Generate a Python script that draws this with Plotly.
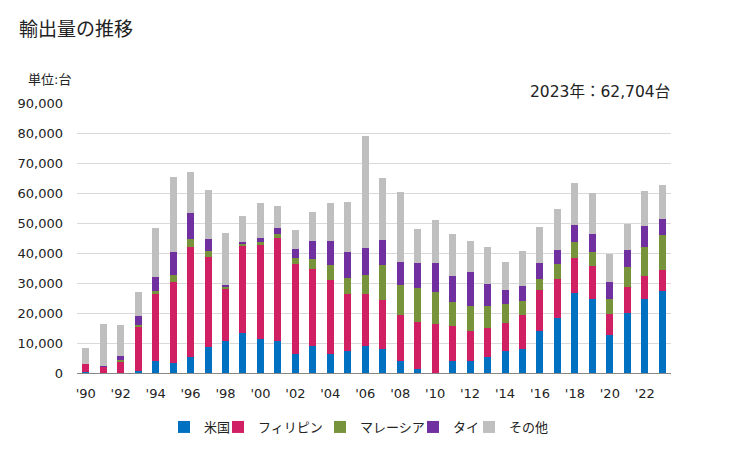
import plotly.graph_objects as go

years = list(range(1990, 2024))
usa = [500, 0, 0, 600, 3900, 3400, 5400, 8600, 10600, 13400, 11400,
       10800, 6400, 9100, 6400, 7400, 9100, 8100, 3900, 1400, 0,
       3900, 3900, 5400, 7200, 7900, 14100, 18400, 26600, 24800, 12800,
       20100, 24600, 27200]
philippines = [2600, 2000, 3900, 14800, 22500, 27000, 36700, 30200, 17500, 29000, 31400,
               34300, 30000, 25700, 24700, 19000, 17300, 16300, 15500, 15700, 16400,
               11900, 10200, 9700, 9600, 11500, 13700, 13000, 11800, 11000, 7000,
               8700, 7800, 7200]
malaysia = [0, 0, 300, 500, 1000, 2400, 2700, 2000, 700, 700, 1000,
            1300, 2000, 3300, 5000, 5400, 6400, 11700, 10000, 11300, 10700,
            8000, 8300, 7300, 6300, 4700, 3600, 5000, 5400, 4600, 5000,
            6600, 9700, 11700]
thailand = [0, 400, 1600, 3200, 4700, 7600, 8600, 4000, 600, 700, 1300,
            2000, 3000, 6000, 8000, 8600, 9000, 8300, 7700, 8400, 9700,
            8600, 11400, 7400, 4700, 5000, 5400, 4700, 5600, 6000, 5600,
            5700, 7000, 5300]
others = [5400, 14000, 10300, 8000, 16300, 25000, 13700, 16300, 17400, 8600, 11700,
          7400, 6400, 9700, 12700, 16700, 37300, 20700, 23300, 11300, 14300,
          14000, 10300, 12300, 9300, 11700, 12000, 13700, 14000, 13600, 9400,
          8700, 11700, 11304]

series_names = ["米国", "フィリピン", "マレーシア", "タイ", "その他"]
series_values = [usa, philippines, malaysia, thailand, others]
colors = ["#0070c0", "#d01f63", "#77933c", "#7030a0", "#bfbfbf"]

tick_years = list(range(1990, 2023, 2))
tick_labels = ["'" + str(y)[2:] for y in tick_years]

W, H = 729, 450
L, R, T, B = 77, 671, 103, 373
FONT = "DejaVu Sans, Noto Sans CJK JP, sans-serif"
TXT = "#222222"

def px_x(x):
    return (x - L) / (R - L)

def px_y(y):
    return (B - y) / (B - T)

# legend text start positions (pixels) for each entry
legend_text_x = [204, 258, 360, 453, 509]
legend_keys = ["legend", "legend2", "legend3", "legend4", "legend5"]

fig = go.Figure()
for name, vals, c, lk in zip(series_names, series_values, colors, legend_keys):
    fig.add_trace(go.Bar(x=years, y=vals, name=name, legend=lk,
                         marker=dict(color=c, line=dict(width=0))))

legend_layouts = {}
for lk, tx in zip(legend_keys, legend_text_x):
    legend_layouts[lk] = dict(orientation="h", xref="container", yref="container",
                              x=(tx - 40) / W, xanchor="left",
                              y=(H - 427) / H, yanchor="middle", bgcolor="rgba(0,0,0,0)",
                              borderwidth=0, font=dict(size=13, color=TXT,
                                                       family="Noto Sans CJK JP"),
                              itemwidth=30)

fig.update_layout(
    width=W, height=H,
    margin=dict(l=L, r=W - R, t=T, b=H - B, pad=0, autoexpand=False),
    barmode="stack",
    bargap=0.6,
    plot_bgcolor="white",
    paper_bgcolor="white",
    font=dict(family=FONT, size=13, color=TXT),
    showlegend=True,
    xaxis=dict(range=[1989.5, 2023.5], tickmode="array", tickvals=tick_years, ticktext=tick_labels,
               showgrid=False, showline=True, linecolor="#888888", linewidth=1,
               ticks="", ticklabelstandoff=8, tickfont=dict(size=13, color=TXT), zeroline=False),
    yaxis=dict(range=[0, 90000], tickmode="linear", tick0=0, dtick=10000, tickformat=",",
               showgrid=True, gridcolor="#d9d9d9", gridwidth=1, zeroline=False,
               showline=False, ticks="", ticklabelstandoff=13,
               tickfont=dict(size=13, color=TXT)),
    annotations=[
        dict(text="輸出量の推移", xref="paper", yref="paper", x=px_x(17), y=px_y(27),
             xanchor="left", yanchor="middle", showarrow=False,
             font=dict(size=19, color=TXT, family="Noto Sans CJK JP")),
        dict(text="単位:台", xref="paper", yref="paper", x=px_x(26), y=px_y(80),
             xanchor="left", yanchor="middle", showarrow=False,
             font=dict(size=13, color=TXT)),
        dict(text="2023年：62,704台", xref="paper", yref="paper", x=px_x(672), y=px_y(92),
             xanchor="right", yanchor="middle", showarrow=False,
             font=dict(size=15.5, color=TXT)),
    ],
    **legend_layouts,
)

fig.write_html("out.html")
